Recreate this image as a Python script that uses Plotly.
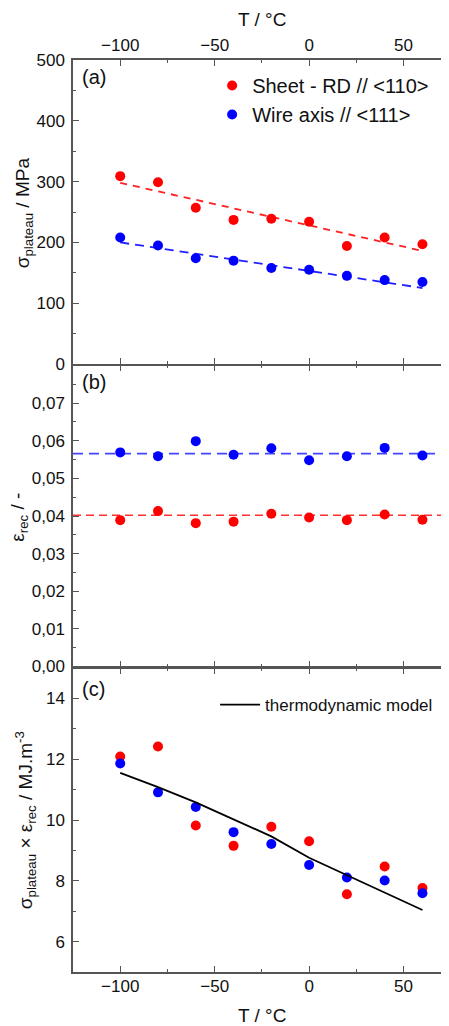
import plotly.graph_objects as go

# ---------------- data ----------------
T = [-100, -80, -60, -40, -20, 0, 20, 40, 60]

sigma_sheet = [309, 299, 257, 237, 239, 234, 194, 208, 197]
sigma_wire = [208, 195, 174, 170, 158, 155, 145, 138, 135]

sheet_fit_T = [-100, 60]
sheet_fit = [298, 186]
wire_fit_T = [-100, -60, -20, 20, 60]
wire_fit = [200, 181, 163, 144, 125]

eps_sheet = [0.0389, 0.0413, 0.0381, 0.0385, 0.0406, 0.0396, 0.0389, 0.0404, 0.0390]
eps_wire = [0.0569, 0.0559, 0.0599, 0.0563, 0.0580, 0.0548, 0.0559, 0.0581, 0.0561]
eps_mean_T = [-125, 73]
eps_sheet_mean = [0.0402, 0.0402]
eps_wire_mean = [0.0566, 0.0566]

energy_sheet = [12.09, 12.42, 9.82, 9.15, 9.78, 9.30, 7.56, 8.47, 7.76]
energy_wire = [11.86, 10.91, 10.43, 9.60, 9.21, 8.52, 8.11, 8.01, 7.59]
model_energy = [11.55, 11.08, 10.58, 10.03, 9.46, 8.76, 8.18, 7.62, 7.04]

x_ticks = [-100, -50, 0, 50]
ya_ticks = [0, 100, 200, 300, 400, 500]
yb_ticks = [0.00, 0.01, 0.02, 0.03, 0.04, 0.05, 0.06, 0.07]
yc_ticks = [6, 8, 10, 12, 14]

label_sheet = "Sheet - RD // &lt;110&gt;"
label_wire = "Wire axis // &lt;111&gt;"
label_model = "thermodynamic model"

RED = "#ff0000"
BLUE = "#0000ff"
AX = "#555555"
FONT = "Liberation Sans, Arial, sans-serif"

fig = go.Figure()

# panel (a)
fig.add_trace(go.Scatter(x=sheet_fit_T, y=sheet_fit, mode="lines", xaxis="x3", yaxis="y3",
                         line=dict(color="#ff2020", width=1.8, dash="7px,6px"), showlegend=False))
fig.add_trace(go.Scatter(x=wire_fit_T, y=wire_fit, mode="lines", xaxis="x3", yaxis="y3",
                         line=dict(color="#2020ff", width=1.8, dash="9px,6px"), showlegend=False))
fig.add_trace(go.Scatter(x=T, y=sigma_sheet, mode="markers", xaxis="x3", yaxis="y3",
                         marker=dict(color=RED, size=10), name=label_sheet, legend="legend"))
fig.add_trace(go.Scatter(x=T, y=sigma_wire, mode="markers", xaxis="x3", yaxis="y3",
                         marker=dict(color=BLUE, size=10), name=label_wire, legend="legend"))

# panel (b)
fig.add_trace(go.Scatter(x=eps_mean_T, y=eps_wire_mean, mode="lines", xaxis="x2", yaxis="y2",
                         line=dict(color="#4444ff", width=1.8, dash="10px,6px"), showlegend=False))
fig.add_trace(go.Scatter(x=eps_mean_T, y=eps_sheet_mean, mode="lines", xaxis="x2", yaxis="y2",
                         line=dict(color="#ff3030", width=1.6, dash="8px,5px"), showlegend=False))
fig.add_trace(go.Scatter(x=T, y=eps_wire, mode="markers", xaxis="x2", yaxis="y2",
                         marker=dict(color=BLUE, size=10), showlegend=False))
fig.add_trace(go.Scatter(x=T, y=eps_sheet, mode="markers", xaxis="x2", yaxis="y2",
                         marker=dict(color=RED, size=10), showlegend=False))

# panel (c)
fig.add_trace(go.Scatter(x=T, y=energy_sheet, mode="markers", xaxis="x", yaxis="y",
                         marker=dict(color=RED, size=10), showlegend=False))
fig.add_trace(go.Scatter(x=T, y=energy_wire, mode="markers", xaxis="x", yaxis="y",
                         marker=dict(color=BLUE, size=10), showlegend=False))
fig.add_trace(go.Scatter(x=T, y=model_energy, mode="lines", xaxis="x", yaxis="y",
                         line=dict(color="black", width=1.8), name=label_model, legend="legend2"))

LW = 1.5
common_x = dict(range=[-125, 73], tickvals=x_ticks, ticks="inside", ticklen=6, tickwidth=1.3,
                tickcolor=AX, showline=True, linecolor=AX, linewidth=LW, mirror="ticks",
                showgrid=False, zeroline=False,
                minor=dict(dtick=50, tick0=-75, ticks="inside", ticklen=3, tickcolor=AX, tickwidth=1.3),
                tickfont=dict(size=17, color="#111", family=FONT))

common_y = dict(ticks="inside", ticklen=6, tickwidth=1.3, tickcolor=AX, showline=True,
                linecolor=AX, linewidth=LW, mirror="ticks", showgrid=False, zeroline=False,
                tickfont=dict(size=17, color="#111", family=FONT), ticklabelstandoff=3)

PH = 912.0
d = LW / PH

fig.update_layout(
    width=441, height=1018,
    margin=dict(l=65, r=0, t=52, b=54),
    paper_bgcolor="white", plot_bgcolor="white",
    separators=",.",
    font=dict(family=FONT, color="#111"),
    xaxis=dict(**common_x, anchor="y", domain=[0, 1], side="bottom", showticklabels=True,
               ticklabelstandoff=-2),
    xaxis2=dict(**common_x, anchor="y2", domain=[0, 1], showticklabels=False),
    xaxis3=dict(**common_x, anchor="y3", domain=[0, 1], side="top", showticklabels=True,
                ticklabelstandoff=0),
    yaxis=dict(**common_y, domain=[0, 1/3], range=[5, 15], tickvals=yc_ticks,
               minor=dict(dtick=2, tick0=5, ticks="inside", ticklen=3, tickcolor=AX, tickwidth=1.3)),
    yaxis2=dict(**common_y, domain=[1/3 + d, 2/3 - d], range=[0, 0.08], tickvals=yb_ticks,
                tickformat=".2f",
                minor=dict(dtick=0.01, tick0=0.005, ticks="inside", ticklen=3, tickcolor=AX, tickwidth=1.3)),
    yaxis3=dict(**common_y, domain=[2/3, 1], range=[0, 500], tickvals=ya_ticks,
                minor=dict(dtick=100, tick0=50, ticks="inside", ticklen=3, tickcolor=AX, tickwidth=1.3)),
    legend=dict(x=0.372, y=0.9934, xanchor="left", yanchor="top", bgcolor="rgba(0,0,0,0)",
                font=dict(size=20, family=FONT, color="#111"), itemwidth=30, tracegroupgap=0),
    legend2=dict(x=0.38, y=0.3125, xanchor="left", yanchor="top", bgcolor="rgba(0,0,0,0)",
                 font=dict(size=17, family=FONT, color="#111"), itemwidth=40),
)

ann = [
    dict(text="(a)", x=0.0186, y=0.9814, xanchor="left", yanchor="middle", font=dict(size=20)),
    dict(text="(b)", x=0.0186, y=0.6469, xanchor="left", yanchor="middle", font=dict(size=20)),
    dict(text="(c)", x=0.0186, y=0.3103, xanchor="left", yanchor="middle", font=dict(size=20)),
    dict(text="T / °C", x=0.505, y=1.0445, xanchor="center", yanchor="middle", font=dict(size=19)),
    dict(text="T / °C", x=0.505, y=-0.0475, xanchor="center", yanchor="middle", font=dict(size=19)),
    dict(text="σ<sub>plateau</sub> / MPa", x=-0.1303, y=0.8322, textangle=-90,
         xanchor="center", yanchor="middle", font=dict(size=19)),
    dict(text="ε<sub>rec</sub> / -", x=-0.145, y=0.4989, textangle=-90,
         xanchor="center", yanchor="middle", font=dict(size=19)),
    dict(text="σ<sub>plateau</sub> × ε<sub>rec</sub> / MJ.m<sup>-3</sup>", x=-0.125, y=0.1667,
         textangle=-90, xanchor="center", yanchor="middle", font=dict(size=19)),
]
for a in ann:
    a.update(xref="paper", yref="paper", showarrow=False)
    a["font"].update(family=FONT, color="#111")
fig.update_layout(annotations=ann)

fig.write_html("out.html")
